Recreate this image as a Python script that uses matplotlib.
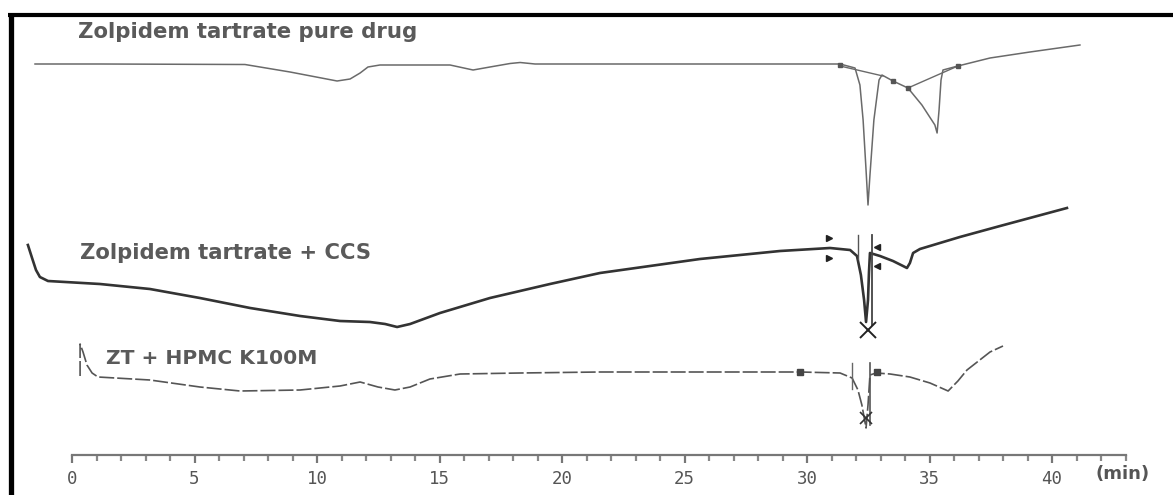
import matplotlib
matplotlib.use("Agg")
import matplotlib.pyplot as plt
from matplotlib.lines import Line2D

# ---------------- data (time in min, signal in arbitrary heat-flow units) ----------------
pure_t = [-1.51, 1.14, 7.06, 8.90, 10.82, 11.35, 11.76, 12.08, 12.57, 15.43, 16.37, 17.06,
          17.88, 18.29, 18.90, 31.35, 31.96, 32.16, 32.29, 32.41, 32.49, 32.57, 32.73, 32.94,
          33.06, 33.51, 34.12, 34.69, 35.22, 35.31, 35.39, 35.47, 35.55, 36.16, 37.47, 39.10, 41.14]
pure_s = [43.1, 43.1, 43.05, 42.3, 41.4, 41.6, 42.2, 42.8, 43.0, 43.0, 42.5, 42.8,
          43.15, 43.25, 43.1, 43.1, 42.7, 41.0, 37.5, 32.5, 29.0, 32.0, 37.5, 41.5,
          42.0, 41.4, 40.7, 39.0, 37.0, 36.2, 38.5, 41.5, 42.5, 42.9, 43.7, 44.3, 45.0]
pure_base1_t = [31.35, 33.10]
pure_base1_s = [42.9, 41.9]
pure_base2_t = [34.12, 36.16]
pure_base2_s = [40.7, 42.9]
pure_marks_t = [31.35, 33.51, 34.12, 36.16]
pure_marks_s = [43.0, 41.4, 40.7, 42.9]

ccs_t = [-1.80, -1.63, -1.47, -1.31, -0.98, 1.14, 3.18, 5.22, 7.27, 9.31, 10.94, 12.16,
         12.78, 13.27, 13.80, 15.02, 17.06, 19.51, 21.55, 25.63, 28.90, 30.94, 31.76, 32.04,
         32.20, 32.33, 32.41, 32.49, 32.53, 32.57, 32.98, 33.51, 33.92, 34.08, 34.20, 34.33,
         34.61, 36.24, 37.88, 40.61]
ccs_s = [25.0, 23.7, 22.5, 21.8, 21.4, 21.1, 20.6, 19.7, 18.7, 17.9, 17.4, 17.3,
         17.1, 16.8, 17.1, 18.2, 19.7, 21.1, 22.2, 23.6, 24.4, 24.7, 24.5, 23.9,
         22.0, 19.5, 17.3, 19.5, 22.3, 24.2, 23.9, 23.4, 22.9, 22.7, 23.2, 24.2,
         24.6, 25.8, 26.9, 28.7]
ccs_right_marks_t = [30.90, 30.90]
ccs_right_marks_s = [25.7, 23.7]
ccs_left_marks_t = [32.86, 32.86]
ccs_left_marks_s = [24.8, 22.9]
ccs_peak_t = 32.49
ccs_peak_s = 16.5

hpmc_t = [0.33, 0.33, 0.45, 0.61, 0.82, 1.06, 3.18, 5.22, 6.86, 9.31, 10.94, 11.76, 12.49,
          13.18, 13.80, 14.61, 15.84, 18.29, 21.55, 29.71, 31.35, 31.84, 32.08, 32.24, 32.41,
          32.49, 32.57, 32.82, 33.39, 34.20, 35.02, 35.76, 36.16, 36.53, 37.47, 38.00]
hpmc_s = [11.9, 15.1, 14.3, 13.0, 12.2, 11.8, 11.5, 10.8, 10.4, 10.5, 10.9, 11.3, 10.8,
          10.5, 10.8, 11.6, 12.1, 12.2, 12.3, 12.3, 12.2, 11.7, 10.5, 9.0, 6.7,
          9.0, 12.0, 12.2, 12.1, 11.8, 11.2, 10.4, 11.4, 12.5, 14.3, 14.9]
hpmc_marks_t = [29.71, 32.86]
hpmc_marks_s = [12.3, 12.3]
hpmc_peak_t = 32.41
hpmc_peak_s = 7.7

labels = ["Zolpidem tartrate pure drug", "Zolpidem tartrate + CCS", "ZT + HPMC K100M"]
label_t = [0.25, 0.33, 1.39]
label_s = [46.3, 24.2, 13.7]

major_ticks = [0, 5, 10, 15, 20, 25, 30, 35, 40]
minor_ticks = list(range(0, 44))
x_unit = "(min)"

# ---------------- figure ----------------
fig = plt.figure(figsize=(11.73, 4.95), dpi=100)
fig.patch.set_facecolor("white")
ax = fig.add_axes([0, 0, 1, 1])
ax.set_xlim(-72 / 24.5, (1173 - 72) / 24.5)
ax.set_ylim(0, 49.5)

line_grey = "#6a6a6a"
ax.plot(pure_t, pure_s, color=line_grey, lw=1.1)
ax.plot(pure_base1_t, pure_base1_s, color=line_grey, lw=1.0)
ax.plot(pure_base2_t, pure_base2_s, color=line_grey, lw=1.0)
ax.plot(pure_marks_t, pure_marks_s, ls="none", marker="s", ms=3.5, color="#555555")

ax.plot(ccs_t, ccs_s, color="#333333", lw=1.9)
ax.plot(ccs_right_marks_t, ccs_right_marks_s, ls="none", marker=">", ms=5, color="#222222")
ax.plot(ccs_left_marks_t, ccs_left_marks_s, ls="none", marker="<", ms=5, color="#222222")
ax.plot([32.08, 32.08], [26.0, 23.6], color="#555555", lw=1.0)
ax.plot([32.65, 32.65], [26.0, 17.0], color="#444444", lw=1.3)
ax.plot([ccs_peak_t], [ccs_peak_s], marker="x", ms=11, mew=1.4, color="#222222")

ax.plot(hpmc_t, hpmc_s, color="#555555", lw=1.2, ls=(0, (9, 1.8)))
ax.plot(hpmc_marks_t, hpmc_marks_s, ls="none", marker="s", ms=4, color="#444444")
ax.plot([31.84, 31.84], [13.2, 10.6], color="#666666", lw=1.0)
ax.plot([32.57, 32.57], [13.2, 7.0], color="#555555", lw=1.2)
ax.plot([hpmc_peak_t], [hpmc_peak_s], marker="x", ms=8, mew=1.2, color="#333333")

label_sizes = [15.3, 15.2, 14.6]
for txt, tx, ty, fs in zip(labels, label_t, label_s, label_sizes):
    ax.text(tx, ty, txt, ha="left", va="center", fontsize=fs,
            family="DejaVu Sans", fontweight="bold", color="#5a5a5a")

# x axis
for s in ["top", "left", "right"]:
    ax.spines[s].set_visible(False)
ax.spines["bottom"].set_position(("data", 4.0))
ax.spines["bottom"].set_bounds(0, 43)
ax.spines["bottom"].set_color("#777777")
ax.spines["bottom"].set_linewidth(1.6)
ax.set_xticks(major_ticks)
ax.set_xticks(minor_ticks, minor=True)
ax.tick_params(axis="x", which="major", direction="out", length=6, width=1.6,
               color="#777777", pad=5, labelsize=12.5, labelcolor="#555555")
ax.tick_params(axis="x", which="minor", direction="out", length=4.5, width=1.6,
               color="#888888")
for lab in ax.get_xticklabels():
    lab.set_family("DejaVu Sans Mono")
ax.set_yticks([])
ax.text(42.9, 2.1, x_unit, ha="center", va="center", fontsize=13,
        family="DejaVu Sans", fontweight="bold", color="#555555")

# outer frame (left and top)
fig.add_artist(Line2D([10.5 / 1173, 10.5 / 1173], [0, 1 - 13 / 495], color="black",
                      lw=3.8, transform=fig.transFigure, solid_capstyle="butt"))
fig.add_artist(Line2D([8 / 1173, 1], [1 - 15 / 495, 1 - 15 / 495], color="black",
                      lw=3.0, transform=fig.transFigure, solid_capstyle="butt"))

fig.savefig("out.png", dpi=100, facecolor="white")
